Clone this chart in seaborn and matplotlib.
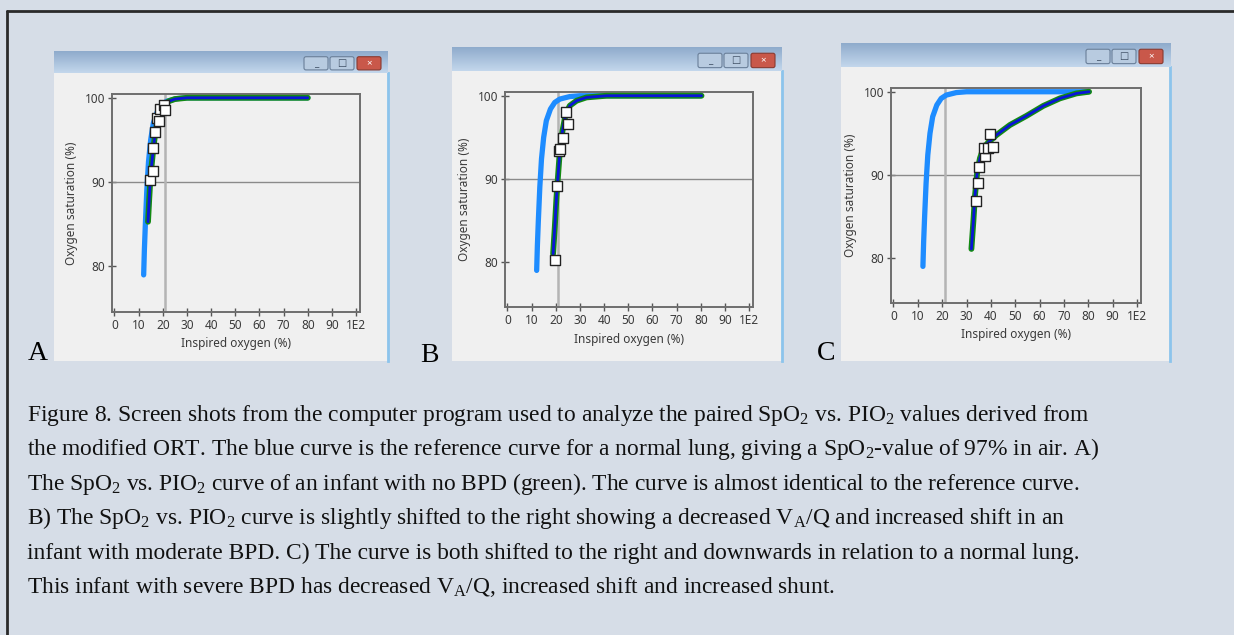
import numpy as np
import pandas as pd
import seaborn as sns
import matplotlib.pyplot as plt
from matplotlib.patches import FancyBboxPatch
from matplotlib.lines import Line2D

# Reference curve (normal lung), same in all three panels
ref_x = [12.1, 12.4, 12.8, 13.4, 14.1, 15.0, 16.1, 17.8, 19.6, 21.7, 25.8, 30, 40, 80]
ref_y = [79.0, 82.0, 85.0, 89.0, 92.4, 95.0, 97.0, 98.4, 99.2, 99.6, 99.9, 100, 100, 100]

# A) no BPD
a_fit_x = [13.9, 14.4, 14.8, 15.4, 16.1, 16.9, 17.9, 19.0, 20.5, 22.5, 25, 30, 80]
a_fit_y = [85.3, 88.0, 90.0, 92.0, 94.0, 95.8, 97.3, 98.4, 99.1, 99.6, 99.85, 100, 100]
a_obs_x = [14.9, 16.0, 16.0, 16.7, 17.6, 18.3, 19.0, 20.4, 20.8]
a_obs_y = [90.2, 91.3, 94.0, 95.9, 97.6, 97.3, 98.7, 99.1, 98.5]

# B) moderate BPD
b_fit_x = [18.9, 19.6, 20.3, 21.0, 21.7, 22.8, 24.1, 25.8, 28.6, 32.7, 41, 80.3]
b_fit_y = [81.0, 84.2, 87.8, 90.6, 93.4, 95.8, 97.8, 98.8, 99.4, 99.8, 100, 100]
b_obs_x = [19.6, 20.4, 21.5, 21.8, 22.8, 24.4, 25.1]
b_obs_y = [80.2, 89.2, 93.3, 93.6, 94.9, 98.0, 96.6]

# C) severe BPD
c_fit_x = [32.0, 32.8, 33.5, 34.4, 35.5, 36.9, 38.9, 42.3, 47.8, 54.6, 61.5, 68.3, 75.1, 80.3]
c_fit_y = [81.1, 84.4, 87.6, 90.4, 92.0, 93.2, 93.9, 94.8, 96.0, 97.1, 98.3, 99.2, 99.8, 100]
c_obs_x = [33.7, 34.8, 35.1, 37.7, 37.0, 38.7, 40.8, 39.5]
c_obs_y = [86.9, 89.0, 90.9, 92.3, 93.2, 93.2, 93.3, 94.9]

air_o2 = 21
sat_line = 90
x_ticks = list(range(0, 101, 10))
x_tick_labels = ["0", "10", "20", "30", "40", "50", "60", "70", "80", "90", "1E2"]
y_ticks = [80, 90, 100]
panel_letters = ["A", "B", "C"]

caption = [
    "Figure 8. Screen shots from the computer program used to analyze the paired SpO$_2$ vs. PIO$_2$ values derived from",
    "the modified ORT. The blue curve is the reference curve for a normal lung, giving a SpO$_2$-value of 97% in air. A)",
    "The SpO$_2$ vs. PIO$_2$ curve of an infant with no BPD (green). The curve is almost identical to the reference curve.",
    "B) The SpO$_2$ vs. PIO$_2$ curve is slightly shifted to the right showing a decreased V$_\\mathrm{A}$/Q and increased shift in an",
    "infant with moderate BPD. C) The curve is both shifted to the right and downwards in relation to a normal lung.",
    "This infant with severe BPD has decreased V$_\\mathrm{A}$/Q, increased shift and increased shunt.",
]

W, H = 1234, 635
sns.set_theme(style="white")
plt.rcParams['font.family'] = ['Noto Sans', 'DejaVu Sans']
plt.rcParams['mathtext.fontset'] = 'custom'
plt.rcParams['mathtext.rm'] = 'Liberation Serif'
plt.rcParams['mathtext.default'] = 'rm'

BG = '#d6dde7'
fig = plt.figure(figsize=(W / 100, H / 100), dpi=100, facecolor=BG)


def rect(x0, y0, x1, y1):
    # pixel box (top-left origin) -> figure fraction
    return [x0 / W, 1 - y1 / H, (x1 - x0) / W, (y1 - y0) / H]


# outer frame (left and top edges)
fig.add_artist(Line2D([6.5 / W, 6.5 / W], [0, 1 - 11 / H], color='#2a2a2a', lw=2))
fig.add_artist(Line2D([6.5 / W, 1], [1 - 11 / H, 1 - 11 / H], color='#2a2a2a', lw=2))

# window screenshots: (left, title top, title bottom, right, bottom)
windows = [(54, 51, 73, 388, 361), (452, 47, 71, 782, 361), (841, 43, 67, 1170, 361)]
grad = np.linspace(0, 1, 50).reshape(-1, 1)
title_cmap = sns.blend_palette(['#8fabcc', '#c3d7ec'], as_cmap=True)

for (l, tt, tb, r, b) in windows:
    body = fig.add_axes(rect(l, tb, r, b), zorder=0)
    body.set_facecolor('#f0f0f0')
    body.set_xticks([])
    body.set_yticks([])
    for s in body.spines.values():
        s.set_visible(False)
    body.spines['right'].set_visible(True)
    body.spines['right'].set_color('#8cc4ec')
    body.spines['right'].set_linewidth(2)

    tbar = fig.add_axes(rect(l, tt, r, tb), zorder=0)
    w, h = r - l, tb - tt
    tbar.imshow(grad, aspect='auto', cmap=title_cmap, extent=(0, w, h, 0))
    tbar.set_xlim(0, w)
    tbar.set_ylim(h, 0)
    tbar.axis('off')
    # min / max / close buttons
    for bx, fc in [(w - 84, '#b8cbe0'), (w - 58, '#b8cbe0'), (w - 31, '#c9584a')]:
        tbar.add_patch(FancyBboxPatch((bx, h * 0.26), 24, h * 0.6,
                                      boxstyle='round,pad=0,rounding_size=2',
                                      fc=fc, ec='#6a7f99' if fc != '#c9584a' else '#8a3a30', lw=0.8))
    for bx, glyph in [(w - 72, '_'), (w - 46, '□'), (w - 19, '×')]:
        tbar.text(bx, h * 0.58, glyph, ha='center', va='center', fontsize=7,
                  color='#3a4a60' if glyph != '×' else 'white', fontweight='bold')

# plot axes (left, top, right, bottom) in pixels
axes_boxes = [(112, 94, 360, 312), (505, 92, 753, 307), (891, 88, 1141, 303)]
fits = [(a_fit_x, a_fit_y), (b_fit_x, b_fit_y), (c_fit_x, c_fit_y)]
obs = [(a_obs_x, a_obs_y), (b_obs_x, b_obs_y), (c_obs_x, c_obs_y)]
letter_pos = [(28, 360), (420, 362), (817, 360)]

ref_df = pd.DataFrame({'pio2': ref_x, 'spo2': ref_y})

for i, (l, t, r, b) in enumerate(axes_boxes):
    ax = fig.add_axes(rect(l, t, r, b), zorder=2)
    ax.set_facecolor('#f0f0f0')
    ax.axhline(sat_line, color='#8a8a8a', lw=1, zorder=1)
    ax.axvline(air_o2, color='#b4b4b4', lw=1.8, zorder=1)

    sns.lineplot(data=ref_df, x='pio2', y='spo2', sort=False, estimator=None,
                 color='#1e8cff', lw=3.8, ax=ax, zorder=2)
    fit_df = pd.DataFrame({'pio2': fits[i][0], 'spo2': fits[i][1]})
    sns.lineplot(data=fit_df, x='pio2', y='spo2', sort=False, estimator=None,
                 color='#138a13', lw=4.2, ax=ax, zorder=3)
    sns.lineplot(data=fit_df, x='pio2', y='spo2', sort=False, estimator=None,
                 color='#0a14d8', lw=2.0, ax=ax, zorder=4)
    obs_df = pd.DataFrame({'pio2': obs[i][0], 'spo2': obs[i][1]})
    sns.scatterplot(data=obs_df, x='pio2', y='spo2', marker='s', s=55,
                    color='white', edgecolor='#222222', linewidth=1, ax=ax, zorder=5)

    ax.set_xlim(-1, 101.6)
    ax.set_ylim(74.6, 100.45)
    ax.set_xticks(x_ticks)
    ax.set_xticklabels(x_tick_labels)
    ax.set_yticks(y_ticks)
    ax.tick_params(axis='both', direction='inout', length=6, width=1, color='#555555',
                   labelsize=8.5, labelcolor='#3a3a3a', pad=2, left=True, bottom=True)
    ax.set_xlabel('Inspired oxygen (%)', fontsize=8.5, color='#3a3a3a', labelpad=4)
    ax.set_ylabel('Oxygen saturation (%)', fontsize=8.5, color='#3a3a3a', labelpad=5)
    for s in ax.spines.values():
        s.set_color('#6e6e6e')
        s.set_linewidth(1.4)

    lx, ly = letter_pos[i]
    fig.text(lx / W, 1 - ly / H, panel_letters[i], fontsize=20,
             family='Liberation Serif', color='black', va='baseline')

# caption
for k, line in enumerate(caption):
    fig.text(27 / W, 1 - (421 + k * 34.4) / H, line, fontsize=16.9,
             family='Liberation Serif', color='#111111', va='baseline')

fig.savefig('out.png', dpi=100, facecolor=BG)
